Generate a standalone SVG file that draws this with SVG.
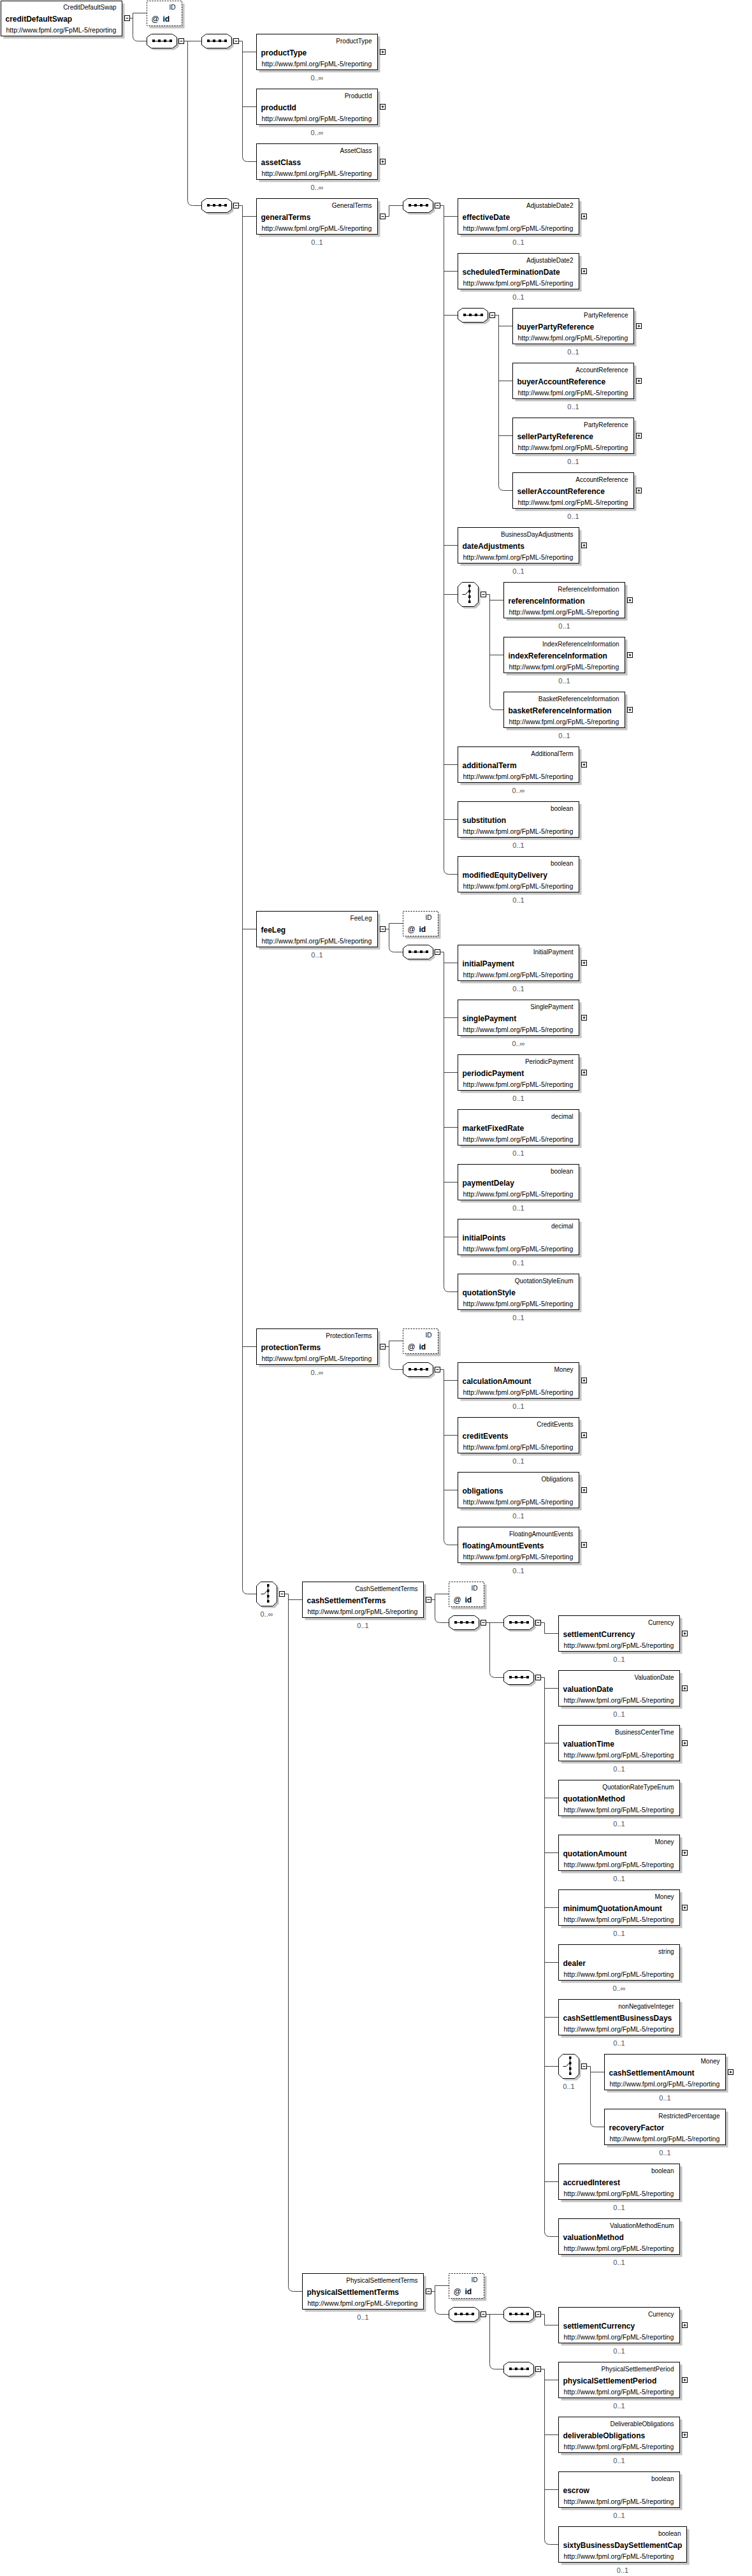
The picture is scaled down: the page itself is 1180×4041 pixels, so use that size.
<svg xmlns="http://www.w3.org/2000/svg" width="1180" height="4041" viewBox="0 0 1180 4041">
<style>
text{font-family:"Liberation Sans",Arial,sans-serif;fill:#000}
.sh{fill:#c4c4c4}
.bx{fill:#fff;stroke:#000;stroke-width:1}
.ad{fill:#fff;stroke:#000;stroke-width:1;stroke-dasharray:2,2}
.ty{font-size:10px;text-anchor:end}
.nm{font-size:12px;font-weight:bold}
.at{font-size:12px}
.ur{font-size:10.5px}
.oc{font-size:11px;fill:#505050;text-anchor:middle}
.cn{fill:none;stroke:#404040;stroke-width:1}
</style>
<defs>
<g id="minus"><rect x="0" y="0" width="8" height="8" fill="#fff" stroke="#000"/><path d="M2,4H6" stroke="#000"/></g>
<g id="plus"><rect x="0" y="0" width="8" height="8" fill="#fff" stroke="#000"/><path d="M2,4H6M4,2V6" stroke="#000"/></g>
<g id="seq">
<polygon class="sh" points="10,3 43,3 50,8 50,20 43,25 10,25 3,20 3,8"/>
<polygon fill="#fff" stroke="#000" points="7,0 40,0 47,5 47,17 40,22 7,22 0,17 0,5"/>
<path d="M10,11H38" stroke="#000"/>
<rect x="8.5" y="8.5" width="4" height="4" fill="#000"/><rect x="17.5" y="8.5" width="4" height="4" fill="#000"/><rect x="26.5" y="8.5" width="4" height="4" fill="#000"/><rect x="35.5" y="8.5" width="4" height="4" fill="#000"/>
</g>
<g id="choice">
<polygon class="sh" points="9.5,3 28.5,3 35,9.5 35,34.5 28.5,41 9.5,41 3,34.5 3,9.5"/>
<polygon fill="#fff" stroke="#000" points="6.5,0 25.5,0 32,6.5 32,31.5 25.5,38 6.5,38 0,31.5 0,6.5"/>
<path d="M18,5V30M7,19H12L16.5,14" stroke="#000" fill="none"/>
<rect x="16.5" y="3.5" width="3.5" height="4" fill="#000"/><rect x="16.5" y="12" width="3.5" height="4" fill="#000"/><rect x="16.5" y="20.5" width="3.5" height="4" fill="#000"/><rect x="16.5" y="28.5" width="3.5" height="4" fill="#000"/>
</g>
</defs>
<rect width="1180" height="4041" fill="#fff"/>

<g id="connectors" class="cn">
<path d="M203.5,28.5H208.5M230.5,20.5H208.5V56.5Q208.5,64.5 216.5,64.5H230.5"/>
<path d="M288.5,64.5H316.5M294.5,64.5V314.5Q294.5,322.5 302.5,322.5H316.5"/>
<path d="M374.5,64.5H380.5V245.5Q380.5,253.5 388.5,253.5H402.5M380.5,81.5H402.5M380.5,167.5H402.5"/>
<path d="M374.5,322.5H380.5V2492.5Q380.5,2500.5 388.5,2500.5H402.5M380.5,339.5H402.5M380.5,1457.5H402.5M380.5,2112.5H402.5"/>
<path d="M604.5,339.5H610.5V322.5H632.5"/>
<path d="M690.5,322.5H696.5V1363.5Q696.5,1371.5 704.5,1371.5H718.5M696.5,339.5H718.5M696.5,425.5H718.5M696.5,494.5H718.5M696.5,855.5H718.5M696.5,932.5H718.5M696.5,1199.5H718.5M696.5,1285.5H718.5"/>
<path d="M776.5,494.5H782.5V761.5Q782.5,769.5 790.5,769.5H804.5M782.5,511.5H804.5M782.5,597.5H804.5M782.5,683.5H804.5"/>
<path d="M762.5,932.5H768.5V1105.5Q768.5,1113.5 776.5,1113.5H790.5M768.5,941.5H790.5M768.5,1027.5H790.5"/>
<path d="M604.5,1457.5H610.5M632.5,1448.5H610.5V1485.5Q610.5,1493.5 618.5,1493.5H632.5"/>
<path d="M690.5,1493.5H696.5V2018.5Q696.5,2026.5 704.5,2026.5H718.5M696.5,1510.5H718.5M696.5,1596.5H718.5M696.5,1682.5H718.5M696.5,1768.5H718.5M696.5,1854.5H718.5M696.5,1940.5H718.5"/>
<path d="M604.5,2112.5H610.5M632.5,2103.5H610.5V2140.5Q610.5,2148.5 618.5,2148.5H632.5"/>
<path d="M690.5,2148.5H696.5V2415.5Q696.5,2423.5 704.5,2423.5H718.5M696.5,2165.5H718.5M696.5,2251.5H718.5M696.5,2337.5H718.5"/>
<path d="M446.5,2500.5H452.5V3586.5Q452.5,3594.5 460.5,3594.5H474.5M452.5,2509.5H474.5"/>
<path d="M676.5,2509.5H682.5M704.5,2500.5H682.5V2537.5Q682.5,2545.5 690.5,2545.5H704.5"/>
<path d="M762.5,2545.5H790.5M768.5,2545.5V2623.5Q768.5,2631.5 776.5,2631.5H790.5"/>
<path d="M848.5,2545.5H854.5V2562.5H876.5"/>
<path d="M848.5,2631.5H854.5V3500.5Q854.5,3508.5 862.5,3508.5H876.5M854.5,2648.5H876.5M854.5,2734.5H876.5M854.5,2820.5H876.5M854.5,2906.5H876.5M854.5,2992.5H876.5M854.5,3078.5H876.5M854.5,3164.5H876.5M854.5,3241.5H876.5M854.5,3422.5H876.5"/>
<path d="M920.5,3241.5H926.5V3328.5Q926.5,3336.5 934.5,3336.5H948.5M926.5,3250.5H948.5"/>
<path d="M676.5,3594.5H682.5M704.5,3585.5H682.5V3622.5Q682.5,3630.5 690.5,3630.5H704.5"/>
<path d="M762.5,3630.5H790.5M768.5,3630.5V3708.5Q768.5,3716.5 776.5,3716.5H790.5"/>
<path d="M848.5,3630.5H854.5V3647.5H876.5"/>
<path d="M848.5,3716.5H854.5V3983.5Q854.5,3991.5 862.5,3991.5H876.5M854.5,3733.5H876.5M854.5,3819.5H876.5M854.5,3905.5H876.5"/>
</g>

<g id="n-creditDefaultSwap"><rect class="sh" x="5.5" y="5.5" width="190" height="55"/><rect class="bx" x="1.5" y="1.5" width="190" height="55"/><text class="ty" x="182.5" y="14.5">CreditDefaultSwap</text><text class="nm" x="8.5" y="33.5">creditDefaultSwap</text><text class="ur" x="9.5" y="50.5">http://www.fpml.org/FpML-5/reporting</text><use href="#minus" x="195.5" y="24.5"/></g>
<g id="a-root-id"><rect class="sh" x="234.5" y="5.5" width="55" height="39"/><rect class="ad" x="230.5" y="1.5" width="55" height="39"/><text class="ty" x="275.5" y="14.5">ID</text><text class="at" x="237.5" y="33.5">@</text><text class="nm" x="255.5" y="33.5">id</text></g>
<g id="s-root"><use href="#seq" x="230.5" y="53.5"/><use href="#minus" x="280.5" y="60.5"/></g>
<g id="s-a"><use href="#seq" x="316.5" y="53.5"/><use href="#minus" x="366.5" y="60.5"/></g>
<g id="s-b"><use href="#seq" x="316.5" y="311.5"/><use href="#minus" x="366.5" y="318.5"/></g>

<g id="n-productType"><rect class="sh" x="406.5" y="57.5" width="190" height="56"/><rect class="bx" x="402.5" y="53.5" width="190" height="56"/><text class="ty" x="583.5" y="67.5">ProductType</text><text class="nm" x="409.5" y="86.5">productType</text><text class="ur" x="410.5" y="103.5">http://www.fpml.org/FpML-5/reporting</text><use href="#plus" x="596.5" y="77.5"/><text class="oc" x="497.5" y="126">0..∞</text></g>
<g id="n-productId"><rect class="sh" x="406.5" y="143.5" width="190" height="56"/><rect class="bx" x="402.5" y="139.5" width="190" height="56"/><text class="ty" x="583.5" y="153.5">ProductId</text><text class="nm" x="409.5" y="172.5">productId</text><text class="ur" x="410.5" y="189.5">http://www.fpml.org/FpML-5/reporting</text><use href="#plus" x="596.5" y="163.5"/><text class="oc" x="497.5" y="212">0..∞</text></g>
<g id="n-assetClass"><rect class="sh" x="406.5" y="229.5" width="190" height="56"/><rect class="bx" x="402.5" y="225.5" width="190" height="56"/><text class="ty" x="583.5" y="239.5">AssetClass</text><text class="nm" x="409.5" y="258.5">assetClass</text><text class="ur" x="410.5" y="275.5">http://www.fpml.org/FpML-5/reporting</text><use href="#plus" x="596.5" y="249.5"/><text class="oc" x="497.5" y="298">0..∞</text></g>
<g id="n-generalTerms"><rect class="sh" x="406.5" y="315.5" width="190" height="56"/><rect class="bx" x="402.5" y="311.5" width="190" height="56"/><text class="ty" x="583.5" y="325.5">GeneralTerms</text><text class="nm" x="409.5" y="344.5">generalTerms</text><text class="ur" x="410.5" y="361.5">http://www.fpml.org/FpML-5/reporting</text><use href="#minus" x="596.5" y="335.5"/><text class="oc" x="497.5" y="384">0..1</text></g>
<g id="s-c"><use href="#seq" x="632.5" y="311.5"/><use href="#minus" x="682.5" y="318.5"/></g>

<g id="n-effectiveDate"><rect class="sh" x="722.5" y="315.5" width="190" height="56"/><rect class="bx" x="718.5" y="311.5" width="190" height="56"/><text class="ty" x="899.5" y="325.5">AdjustableDate2</text><text class="nm" x="725.5" y="344.5">effectiveDate</text><text class="ur" x="726.5" y="361.5">http://www.fpml.org/FpML-5/reporting</text><use href="#plus" x="912.5" y="335.5"/><text class="oc" x="813.5" y="384">0..1</text></g>
<g id="n-scheduledTerminationDate"><rect class="sh" x="722.5" y="401.5" width="190" height="56"/><rect class="bx" x="718.5" y="397.5" width="190" height="56"/><text class="ty" x="899.5" y="411.5">AdjustableDate2</text><text class="nm" x="725.5" y="430.5">scheduledTerminationDate</text><text class="ur" x="726.5" y="447.5">http://www.fpml.org/FpML-5/reporting</text><use href="#plus" x="912.5" y="421.5"/><text class="oc" x="813.5" y="470">0..1</text></g>
<g id="s-d"><use href="#seq" x="718.5" y="483.5"/><use href="#minus" x="768.5" y="490.5"/></g>
<g id="n-buyerPartyReference"><rect class="sh" x="808.5" y="487.5" width="190" height="56"/><rect class="bx" x="804.5" y="483.5" width="190" height="56"/><text class="ty" x="985.5" y="497.5">PartyReference</text><text class="nm" x="811.5" y="516.5">buyerPartyReference</text><text class="ur" x="812.5" y="533.5">http://www.fpml.org/FpML-5/reporting</text><use href="#plus" x="998.5" y="507.5"/><text class="oc" x="899.5" y="556">0..1</text></g>
<g id="n-buyerAccountReference"><rect class="sh" x="808.5" y="573.5" width="190" height="56"/><rect class="bx" x="804.5" y="569.5" width="190" height="56"/><text class="ty" x="985.5" y="583.5">AccountReference</text><text class="nm" x="811.5" y="602.5">buyerAccountReference</text><text class="ur" x="812.5" y="619.5">http://www.fpml.org/FpML-5/reporting</text><use href="#plus" x="998.5" y="593.5"/><text class="oc" x="899.5" y="642">0..1</text></g>
<g id="n-sellerPartyReference"><rect class="sh" x="808.5" y="659.5" width="190" height="56"/><rect class="bx" x="804.5" y="655.5" width="190" height="56"/><text class="ty" x="985.5" y="669.5">PartyReference</text><text class="nm" x="811.5" y="688.5">sellerPartyReference</text><text class="ur" x="812.5" y="705.5">http://www.fpml.org/FpML-5/reporting</text><use href="#plus" x="998.5" y="679.5"/><text class="oc" x="899.5" y="728">0..1</text></g>
<g id="n-sellerAccountReference"><rect class="sh" x="808.5" y="745.5" width="190" height="56"/><rect class="bx" x="804.5" y="741.5" width="190" height="56"/><text class="ty" x="985.5" y="755.5">AccountReference</text><text class="nm" x="811.5" y="774.5">sellerAccountReference</text><text class="ur" x="812.5" y="791.5">http://www.fpml.org/FpML-5/reporting</text><use href="#plus" x="998.5" y="765.5"/><text class="oc" x="899.5" y="814">0..1</text></g>
<g id="n-dateAdjustments"><rect class="sh" x="722.5" y="831.5" width="190" height="56"/><rect class="bx" x="718.5" y="827.5" width="190" height="56"/><text class="ty" x="899.5" y="841.5">BusinessDayAdjustments</text><text class="nm" x="725.5" y="860.5">dateAdjustments</text><text class="ur" x="726.5" y="877.5">http://www.fpml.org/FpML-5/reporting</text><use href="#plus" x="912.5" y="851.5"/><text class="oc" x="813.5" y="900">0..1</text></g>
<g id="c-e"><use href="#choice" x="718.5" y="913.5"/><use href="#minus" x="754.5" y="928.5"/></g>
<g id="n-referenceInformation"><rect class="sh" x="794.5" y="917.5" width="190" height="56"/><rect class="bx" x="790.5" y="913.5" width="190" height="56"/><text class="ty" x="971.5" y="927.5">ReferenceInformation</text><text class="nm" x="797.5" y="946.5">referenceInformation</text><text class="ur" x="798.5" y="963.5">http://www.fpml.org/FpML-5/reporting</text><use href="#plus" x="984.5" y="937.5"/><text class="oc" x="885.5" y="986">0..1</text></g>
<g id="n-indexReferenceInformation"><rect class="sh" x="794.5" y="1003.5" width="190" height="56"/><rect class="bx" x="790.5" y="999.5" width="190" height="56"/><text class="ty" x="971.5" y="1013.5">IndexReferenceInformation</text><text class="nm" x="797.5" y="1032.5">indexReferenceInformation</text><text class="ur" x="798.5" y="1049.5">http://www.fpml.org/FpML-5/reporting</text><use href="#plus" x="984.5" y="1023.5"/><text class="oc" x="885.5" y="1072">0..1</text></g>
<g id="n-basketReferenceInformation"><rect class="sh" x="794.5" y="1089.5" width="190" height="56"/><rect class="bx" x="790.5" y="1085.5" width="190" height="56"/><text class="ty" x="971.5" y="1099.5">BasketReferenceInformation</text><text class="nm" x="797.5" y="1118.5">basketReferenceInformation</text><text class="ur" x="798.5" y="1135.5">http://www.fpml.org/FpML-5/reporting</text><use href="#plus" x="984.5" y="1109.5"/><text class="oc" x="885.5" y="1158">0..1</text></g>
<g id="n-additionalTerm"><rect class="sh" x="722.5" y="1175.5" width="190" height="56"/><rect class="bx" x="718.5" y="1171.5" width="190" height="56"/><text class="ty" x="899.5" y="1185.5">AdditionalTerm</text><text class="nm" x="725.5" y="1204.5">additionalTerm</text><text class="ur" x="726.5" y="1221.5">http://www.fpml.org/FpML-5/reporting</text><use href="#plus" x="912.5" y="1195.5"/><text class="oc" x="813.5" y="1244">0..∞</text></g>
<g id="n-substitution"><rect class="sh" x="722.5" y="1261.5" width="190" height="56"/><rect class="bx" x="718.5" y="1257.5" width="190" height="56"/><text class="ty" x="899.5" y="1271.5">boolean</text><text class="nm" x="725.5" y="1290.5">substitution</text><text class="ur" x="726.5" y="1307.5">http://www.fpml.org/FpML-5/reporting</text><text class="oc" x="813.5" y="1330">0..1</text></g>
<g id="n-modifiedEquityDelivery"><rect class="sh" x="722.5" y="1347.5" width="190" height="56"/><rect class="bx" x="718.5" y="1343.5" width="190" height="56"/><text class="ty" x="899.5" y="1357.5">boolean</text><text class="nm" x="725.5" y="1376.5">modifiedEquityDelivery</text><text class="ur" x="726.5" y="1393.5">http://www.fpml.org/FpML-5/reporting</text><text class="oc" x="813.5" y="1416">0..1</text></g>

<g id="n-feeLeg"><rect class="sh" x="406.5" y="1433.5" width="190" height="56"/><rect class="bx" x="402.5" y="1429.5" width="190" height="56"/><text class="ty" x="583.5" y="1443.5">FeeLeg</text><text class="nm" x="409.5" y="1462.5">feeLeg</text><text class="ur" x="410.5" y="1479.5">http://www.fpml.org/FpML-5/reporting</text><use href="#minus" x="596.5" y="1453.5"/><text class="oc" x="497.5" y="1502">0..1</text></g>
<g id="a-feeLeg-id"><rect class="sh" x="636.5" y="1433.5" width="55" height="39"/><rect class="ad" x="632.5" y="1429.5" width="55" height="39"/><text class="ty" x="677.5" y="1442.5">ID</text><text class="at" x="639.5" y="1461.5">@</text><text class="nm" x="657.5" y="1461.5">id</text></g>
<g id="s-fee"><use href="#seq" x="632.5" y="1482.5"/><use href="#minus" x="682.5" y="1489.5"/></g>
<g id="n-initialPayment"><rect class="sh" x="722.5" y="1486.5" width="190" height="56"/><rect class="bx" x="718.5" y="1482.5" width="190" height="56"/><text class="ty" x="899.5" y="1496.5">InitialPayment</text><text class="nm" x="725.5" y="1515.5">initialPayment</text><text class="ur" x="726.5" y="1532.5">http://www.fpml.org/FpML-5/reporting</text><use href="#plus" x="912.5" y="1506.5"/><text class="oc" x="813.5" y="1555">0..1</text></g>
<g id="n-singlePayment"><rect class="sh" x="722.5" y="1572.5" width="190" height="56"/><rect class="bx" x="718.5" y="1568.5" width="190" height="56"/><text class="ty" x="899.5" y="1582.5">SinglePayment</text><text class="nm" x="725.5" y="1601.5">singlePayment</text><text class="ur" x="726.5" y="1618.5">http://www.fpml.org/FpML-5/reporting</text><use href="#plus" x="912.5" y="1592.5"/><text class="oc" x="813.5" y="1641">0..∞</text></g>
<g id="n-periodicPayment"><rect class="sh" x="722.5" y="1658.5" width="190" height="56"/><rect class="bx" x="718.5" y="1654.5" width="190" height="56"/><text class="ty" x="899.5" y="1668.5">PeriodicPayment</text><text class="nm" x="725.5" y="1687.5">periodicPayment</text><text class="ur" x="726.5" y="1704.5">http://www.fpml.org/FpML-5/reporting</text><use href="#plus" x="912.5" y="1678.5"/><text class="oc" x="813.5" y="1727">0..1</text></g>
<g id="n-marketFixedRate"><rect class="sh" x="722.5" y="1744.5" width="190" height="56"/><rect class="bx" x="718.5" y="1740.5" width="190" height="56"/><text class="ty" x="899.5" y="1754.5">decimal</text><text class="nm" x="725.5" y="1773.5">marketFixedRate</text><text class="ur" x="726.5" y="1790.5">http://www.fpml.org/FpML-5/reporting</text><text class="oc" x="813.5" y="1813">0..1</text></g>
<g id="n-paymentDelay"><rect class="sh" x="722.5" y="1830.5" width="190" height="56"/><rect class="bx" x="718.5" y="1826.5" width="190" height="56"/><text class="ty" x="899.5" y="1840.5">boolean</text><text class="nm" x="725.5" y="1859.5">paymentDelay</text><text class="ur" x="726.5" y="1876.5">http://www.fpml.org/FpML-5/reporting</text><text class="oc" x="813.5" y="1899">0..1</text></g>
<g id="n-initialPoints"><rect class="sh" x="722.5" y="1916.5" width="190" height="56"/><rect class="bx" x="718.5" y="1912.5" width="190" height="56"/><text class="ty" x="899.5" y="1926.5">decimal</text><text class="nm" x="725.5" y="1945.5">initialPoints</text><text class="ur" x="726.5" y="1962.5">http://www.fpml.org/FpML-5/reporting</text><text class="oc" x="813.5" y="1985">0..1</text></g>
<g id="n-quotationStyle"><rect class="sh" x="722.5" y="2002.5" width="190" height="56"/><rect class="bx" x="718.5" y="1998.5" width="190" height="56"/><text class="ty" x="899.5" y="2012.5">QuotationStyleEnum</text><text class="nm" x="725.5" y="2031.5">quotationStyle</text><text class="ur" x="726.5" y="2048.5">http://www.fpml.org/FpML-5/reporting</text><text class="oc" x="813.5" y="2071">0..1</text></g>

<g id="n-protectionTerms"><rect class="sh" x="406.5" y="2088.5" width="190" height="56"/><rect class="bx" x="402.5" y="2084.5" width="190" height="56"/><text class="ty" x="583.5" y="2098.5">ProtectionTerms</text><text class="nm" x="409.5" y="2117.5">protectionTerms</text><text class="ur" x="410.5" y="2134.5">http://www.fpml.org/FpML-5/reporting</text><use href="#minus" x="596.5" y="2108.5"/><text class="oc" x="497.5" y="2157">0..∞</text></g>
<g id="a-protection-id"><rect class="sh" x="636.5" y="2088.5" width="55" height="39"/><rect class="ad" x="632.5" y="2084.5" width="55" height="39"/><text class="ty" x="677.5" y="2097.5">ID</text><text class="at" x="639.5" y="2116.5">@</text><text class="nm" x="657.5" y="2116.5">id</text></g>
<g id="s-prot"><use href="#seq" x="632.5" y="2137.5"/><use href="#minus" x="682.5" y="2144.5"/></g>
<g id="n-calculationAmount"><rect class="sh" x="722.5" y="2141.5" width="190" height="56"/><rect class="bx" x="718.5" y="2137.5" width="190" height="56"/><text class="ty" x="899.5" y="2151.5">Money</text><text class="nm" x="725.5" y="2170.5">calculationAmount</text><text class="ur" x="726.5" y="2187.5">http://www.fpml.org/FpML-5/reporting</text><use href="#plus" x="912.5" y="2161.5"/><text class="oc" x="813.5" y="2210">0..1</text></g>
<g id="n-creditEvents"><rect class="sh" x="722.5" y="2227.5" width="190" height="56"/><rect class="bx" x="718.5" y="2223.5" width="190" height="56"/><text class="ty" x="899.5" y="2237.5">CreditEvents</text><text class="nm" x="725.5" y="2256.5">creditEvents</text><text class="ur" x="726.5" y="2273.5">http://www.fpml.org/FpML-5/reporting</text><use href="#plus" x="912.5" y="2247.5"/><text class="oc" x="813.5" y="2296">0..1</text></g>
<g id="n-obligations"><rect class="sh" x="722.5" y="2313.5" width="190" height="56"/><rect class="bx" x="718.5" y="2309.5" width="190" height="56"/><text class="ty" x="899.5" y="2323.5">Obligations</text><text class="nm" x="725.5" y="2342.5">obligations</text><text class="ur" x="726.5" y="2359.5">http://www.fpml.org/FpML-5/reporting</text><use href="#plus" x="912.5" y="2333.5"/><text class="oc" x="813.5" y="2382">0..1</text></g>
<g id="n-floatingAmountEvents"><rect class="sh" x="722.5" y="2399.5" width="190" height="56"/><rect class="bx" x="718.5" y="2395.5" width="190" height="56"/><text class="ty" x="899.5" y="2409.5">FloatingAmountEvents</text><text class="nm" x="725.5" y="2428.5">floatingAmountEvents</text><text class="ur" x="726.5" y="2445.5">http://www.fpml.org/FpML-5/reporting</text><use href="#plus" x="912.5" y="2419.5"/><text class="oc" x="813.5" y="2468">0..1</text></g>

<g id="c-f"><use href="#choice" x="402.5" y="2481.5"/><use href="#minus" x="438.5" y="2496.5"/><text class="oc" x="418.5" y="2535.5">0..∞</text></g>
<g id="n-cashSettlementTerms"><rect class="sh" x="478.5" y="2485.5" width="190" height="56"/><rect class="bx" x="474.5" y="2481.5" width="190" height="56"/><text class="ty" x="655.5" y="2495.5">CashSettlementTerms</text><text class="nm" x="481.5" y="2514.5">cashSettlementTerms</text><text class="ur" x="482.5" y="2531.5">http://www.fpml.org/FpML-5/reporting</text><use href="#minus" x="668.5" y="2505.5"/><text class="oc" x="569.5" y="2554">0..1</text></g>
<g id="a-cash-id"><rect class="sh" x="708.5" y="2485.5" width="55" height="39"/><rect class="ad" x="704.5" y="2481.5" width="55" height="39"/><text class="ty" x="749.5" y="2494.5">ID</text><text class="at" x="711.5" y="2513.5">@</text><text class="nm" x="729.5" y="2513.5">id</text></g>
<g id="s-h"><use href="#seq" x="704.5" y="2534.5"/><use href="#minus" x="754.5" y="2541.5"/></g>
<g id="s-i"><use href="#seq" x="790.5" y="2534.5"/><use href="#minus" x="840.5" y="2541.5"/></g>
<g id="s-j"><use href="#seq" x="790.5" y="2620.5"/><use href="#minus" x="840.5" y="2627.5"/></g>
<g id="n-settlementCurrency-cash"><rect class="sh" x="880.5" y="2538.5" width="190" height="56"/><rect class="bx" x="876.5" y="2534.5" width="190" height="56"/><text class="ty" x="1057.5" y="2548.5">Currency</text><text class="nm" x="883.5" y="2567.5">settlementCurrency</text><text class="ur" x="884.5" y="2584.5">http://www.fpml.org/FpML-5/reporting</text><use href="#plus" x="1070.5" y="2558.5"/><text class="oc" x="971.5" y="2607">0..1</text></g>
<g id="n-valuationDate"><rect class="sh" x="880.5" y="2624.5" width="190" height="56"/><rect class="bx" x="876.5" y="2620.5" width="190" height="56"/><text class="ty" x="1057.5" y="2634.5">ValuationDate</text><text class="nm" x="883.5" y="2653.5">valuationDate</text><text class="ur" x="884.5" y="2670.5">http://www.fpml.org/FpML-5/reporting</text><use href="#plus" x="1070.5" y="2644.5"/><text class="oc" x="971.5" y="2693">0..1</text></g>
<g id="n-valuationTime"><rect class="sh" x="880.5" y="2710.5" width="190" height="56"/><rect class="bx" x="876.5" y="2706.5" width="190" height="56"/><text class="ty" x="1057.5" y="2720.5">BusinessCenterTime</text><text class="nm" x="883.5" y="2739.5">valuationTime</text><text class="ur" x="884.5" y="2756.5">http://www.fpml.org/FpML-5/reporting</text><use href="#plus" x="1070.5" y="2730.5"/><text class="oc" x="971.5" y="2779">0..1</text></g>
<g id="n-quotationMethod"><rect class="sh" x="880.5" y="2796.5" width="190" height="56"/><rect class="bx" x="876.5" y="2792.5" width="190" height="56"/><text class="ty" x="1057.5" y="2806.5">QuotationRateTypeEnum</text><text class="nm" x="883.5" y="2825.5">quotationMethod</text><text class="ur" x="884.5" y="2842.5">http://www.fpml.org/FpML-5/reporting</text><text class="oc" x="971.5" y="2865">0..1</text></g>
<g id="n-quotationAmount"><rect class="sh" x="880.5" y="2882.5" width="190" height="56"/><rect class="bx" x="876.5" y="2878.5" width="190" height="56"/><text class="ty" x="1057.5" y="2892.5">Money</text><text class="nm" x="883.5" y="2911.5">quotationAmount</text><text class="ur" x="884.5" y="2928.5">http://www.fpml.org/FpML-5/reporting</text><use href="#plus" x="1070.5" y="2902.5"/><text class="oc" x="971.5" y="2951">0..1</text></g>
<g id="n-minimumQuotationAmount"><rect class="sh" x="880.5" y="2968.5" width="190" height="56"/><rect class="bx" x="876.5" y="2964.5" width="190" height="56"/><text class="ty" x="1057.5" y="2978.5">Money</text><text class="nm" x="883.5" y="2997.5">minimumQuotationAmount</text><text class="ur" x="884.5" y="3014.5">http://www.fpml.org/FpML-5/reporting</text><use href="#plus" x="1070.5" y="2988.5"/><text class="oc" x="971.5" y="3037">0..1</text></g>
<g id="n-dealer"><rect class="sh" x="880.5" y="3054.5" width="190" height="56"/><rect class="bx" x="876.5" y="3050.5" width="190" height="56"/><text class="ty" x="1057.5" y="3064.5">string</text><text class="nm" x="883.5" y="3083.5">dealer</text><text class="ur" x="884.5" y="3100.5">http://www.fpml.org/FpML-5/reporting</text><text class="oc" x="971.5" y="3123">0..∞</text></g>
<g id="n-cashSettlementBusinessDays"><rect class="sh" x="880.5" y="3140.5" width="190" height="56"/><rect class="bx" x="876.5" y="3136.5" width="190" height="56"/><text class="ty" x="1057.5" y="3150.5">nonNegativeInteger</text><text class="nm" x="883.5" y="3169.5">cashSettlementBusinessDays</text><text class="ur" x="884.5" y="3186.5">http://www.fpml.org/FpML-5/reporting</text><text class="oc" x="971.5" y="3209">0..1</text></g>
<g id="c-k"><use href="#choice" x="876.5" y="3222.5"/><use href="#minus" x="912.5" y="3237.5"/><text class="oc" x="892.5" y="3276.5">0..1</text></g>
<g id="n-cashSettlementAmount"><rect class="sh" x="952.5" y="3226.5" width="190" height="56"/><rect class="bx" x="948.5" y="3222.5" width="190" height="56"/><text class="ty" x="1129.5" y="3236.5">Money</text><text class="nm" x="955.5" y="3255.5">cashSettlementAmount</text><text class="ur" x="956.5" y="3272.5">http://www.fpml.org/FpML-5/reporting</text><use href="#plus" x="1142.5" y="3246.5"/><text class="oc" x="1043.5" y="3295">0..1</text></g>
<g id="n-recoveryFactor"><rect class="sh" x="952.5" y="3312.5" width="190" height="56"/><rect class="bx" x="948.5" y="3308.5" width="190" height="56"/><text class="ty" x="1129.5" y="3322.5">RestrictedPercentage</text><text class="nm" x="955.5" y="3341.5">recoveryFactor</text><text class="ur" x="956.5" y="3358.5">http://www.fpml.org/FpML-5/reporting</text><text class="oc" x="1043.5" y="3381">0..1</text></g>
<g id="n-accruedInterest"><rect class="sh" x="880.5" y="3398.5" width="190" height="56"/><rect class="bx" x="876.5" y="3394.5" width="190" height="56"/><text class="ty" x="1057.5" y="3408.5">boolean</text><text class="nm" x="883.5" y="3427.5">accruedInterest</text><text class="ur" x="884.5" y="3444.5">http://www.fpml.org/FpML-5/reporting</text><text class="oc" x="971.5" y="3467">0..1</text></g>
<g id="n-valuationMethod"><rect class="sh" x="880.5" y="3484.5" width="190" height="56"/><rect class="bx" x="876.5" y="3480.5" width="190" height="56"/><text class="ty" x="1057.5" y="3494.5">ValuationMethodEnum</text><text class="nm" x="883.5" y="3513.5">valuationMethod</text><text class="ur" x="884.5" y="3530.5">http://www.fpml.org/FpML-5/reporting</text><text class="oc" x="971.5" y="3553">0..1</text></g>

<g id="n-physicalSettlementTerms"><rect class="sh" x="478.5" y="3570.5" width="190" height="56"/><rect class="bx" x="474.5" y="3566.5" width="190" height="56"/><text class="ty" x="655.5" y="3580.5">PhysicalSettlementTerms</text><text class="nm" x="481.5" y="3599.5">physicalSettlementTerms</text><text class="ur" x="482.5" y="3616.5">http://www.fpml.org/FpML-5/reporting</text><use href="#minus" x="668.5" y="3590.5"/><text class="oc" x="569.5" y="3639">0..1</text></g>
<g id="a-physical-id"><rect class="sh" x="708.5" y="3570.5" width="55" height="39"/><rect class="ad" x="704.5" y="3566.5" width="55" height="39"/><text class="ty" x="749.5" y="3579.5">ID</text><text class="at" x="711.5" y="3598.5">@</text><text class="nm" x="729.5" y="3598.5">id</text></g>
<g id="s-p1"><use href="#seq" x="704.5" y="3619.5"/><use href="#minus" x="754.5" y="3626.5"/></g>
<g id="s-p2"><use href="#seq" x="790.5" y="3619.5"/><use href="#minus" x="840.5" y="3626.5"/></g>
<g id="s-p3"><use href="#seq" x="790.5" y="3705.5"/><use href="#minus" x="840.5" y="3712.5"/></g>
<g id="n-settlementCurrency-phys"><rect class="sh" x="880.5" y="3623.5" width="190" height="56"/><rect class="bx" x="876.5" y="3619.5" width="190" height="56"/><text class="ty" x="1057.5" y="3633.5">Currency</text><text class="nm" x="883.5" y="3652.5">settlementCurrency</text><text class="ur" x="884.5" y="3669.5">http://www.fpml.org/FpML-5/reporting</text><use href="#plus" x="1070.5" y="3643.5"/><text class="oc" x="971.5" y="3692">0..1</text></g>
<g id="n-physicalSettlementPeriod"><rect class="sh" x="880.5" y="3709.5" width="190" height="56"/><rect class="bx" x="876.5" y="3705.5" width="190" height="56"/><text class="ty" x="1057.5" y="3719.5">PhysicalSettlementPeriod</text><text class="nm" x="883.5" y="3738.5">physicalSettlementPeriod</text><text class="ur" x="884.5" y="3755.5">http://www.fpml.org/FpML-5/reporting</text><use href="#plus" x="1070.5" y="3729.5"/><text class="oc" x="971.5" y="3778">0..1</text></g>
<g id="n-deliverableObligations"><rect class="sh" x="880.5" y="3795.5" width="190" height="56"/><rect class="bx" x="876.5" y="3791.5" width="190" height="56"/><text class="ty" x="1057.5" y="3805.5">DeliverableObligations</text><text class="nm" x="883.5" y="3824.5">deliverableObligations</text><text class="ur" x="884.5" y="3841.5">http://www.fpml.org/FpML-5/reporting</text><use href="#plus" x="1070.5" y="3815.5"/><text class="oc" x="971.5" y="3864">0..1</text></g>
<g id="n-escrow"><rect class="sh" x="880.5" y="3881.5" width="190" height="56"/><rect class="bx" x="876.5" y="3877.5" width="190" height="56"/><text class="ty" x="1057.5" y="3891.5">boolean</text><text class="nm" x="883.5" y="3910.5">escrow</text><text class="ur" x="884.5" y="3927.5">http://www.fpml.org/FpML-5/reporting</text><text class="oc" x="971.5" y="3950">0..1</text></g>
<g id="n-sixtyBusinessDaySettlementCap"><rect class="sh" x="880.5" y="3967.5" width="201" height="56"/><rect class="bx" x="876.5" y="3963.5" width="201" height="56"/><text class="ty" x="1068.5" y="3977.5">boolean</text><text class="nm" x="883.5" y="3996.5">sixtyBusinessDaySettlementCap</text><text class="ur" x="884.5" y="4013.5">http://www.fpml.org/FpML-5/reporting</text><text class="oc" x="977" y="4036">0..1</text></g>
</svg>
